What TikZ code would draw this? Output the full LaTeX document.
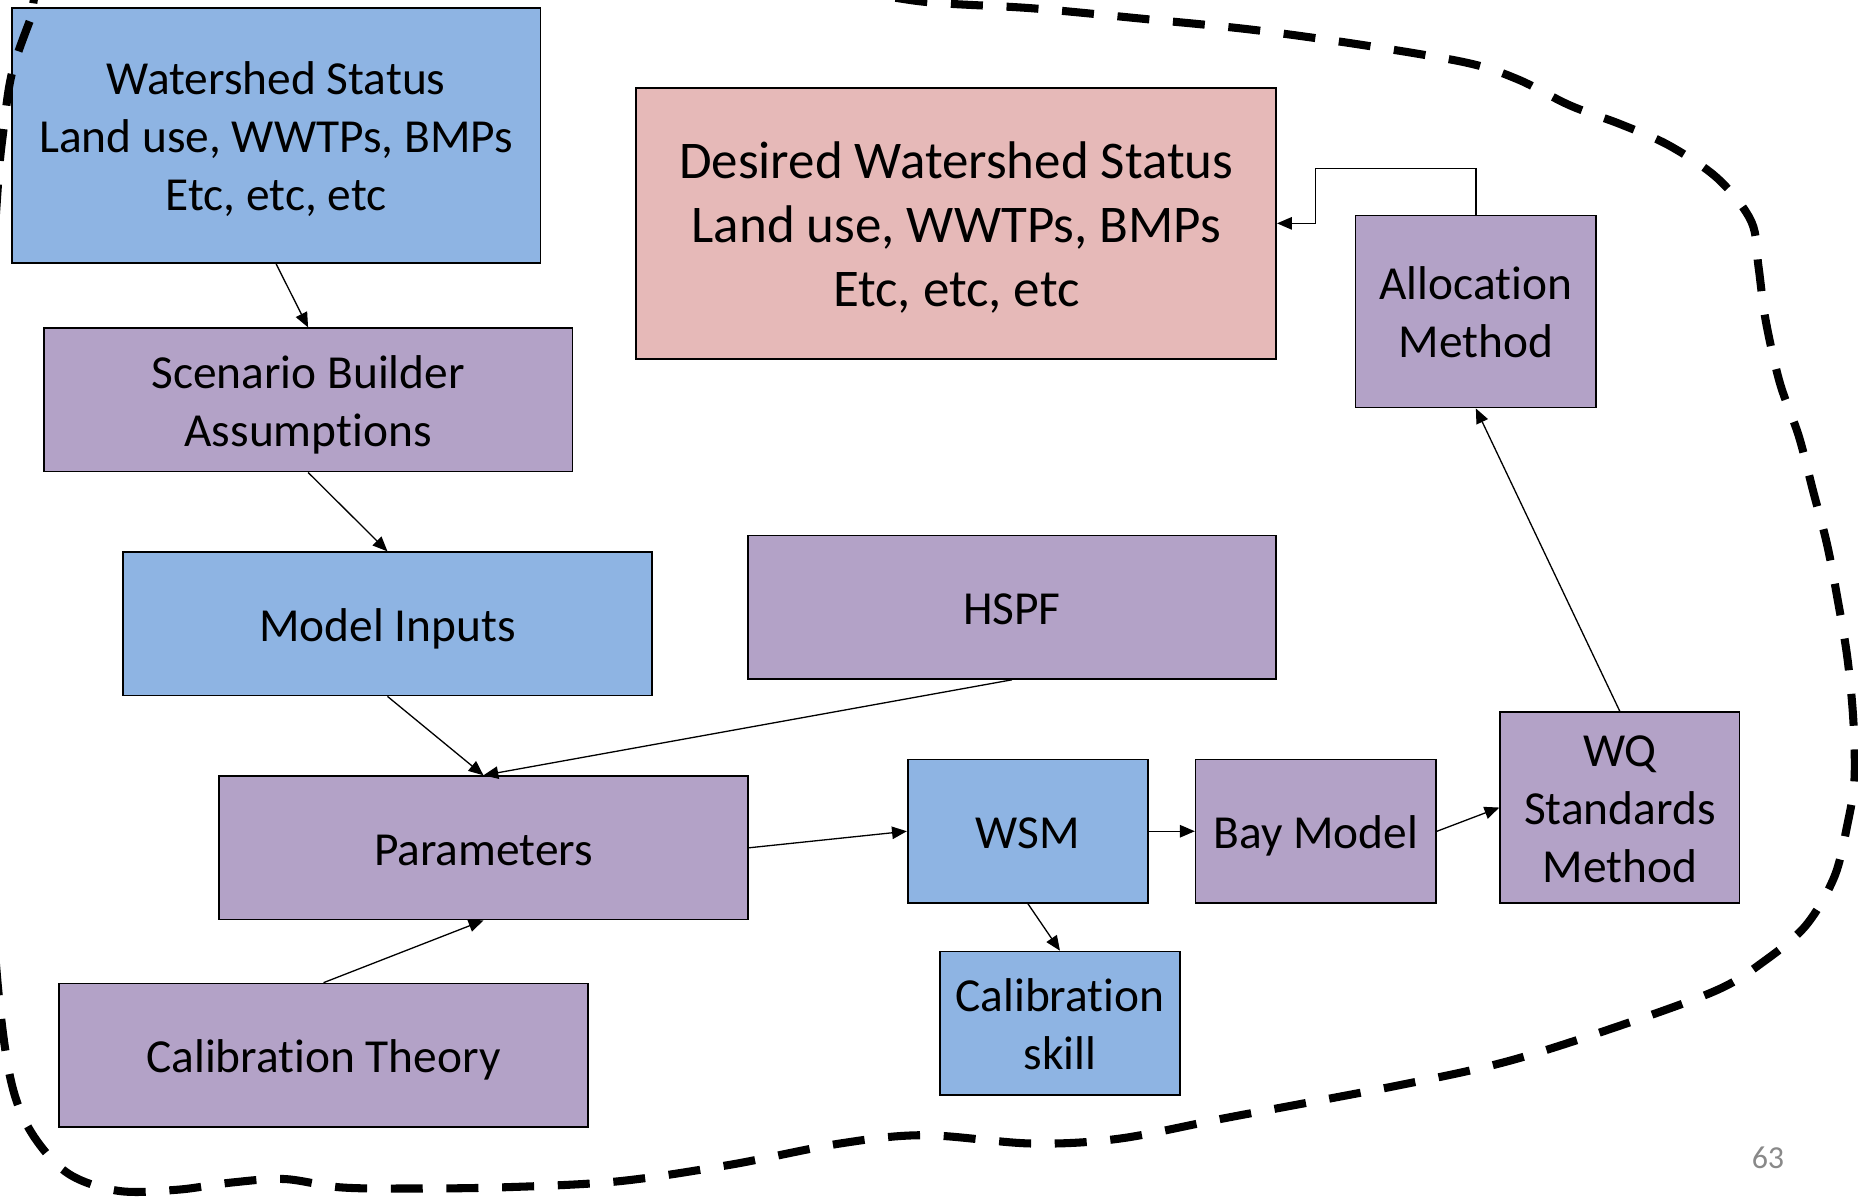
\documentclass[tikz,border=0pt]{standalone}
\usepackage{fontspec}
\setmainfont{Carlito}[Ligatures=CommonOff]
\usetikzlibrary{arrows.meta}
\definecolor{boxblue}{HTML}{8EB4E3}
\definecolor{boxpurple}{HTML}{B3A2C7}
\definecolor{boxpink}{HTML}{E6B9B8}
\definecolor{pagegray}{HTML}{898989}
\newcommand{\firstA}{\rule{0pt}{36pt}}
\newcommand{\firstB}{\rule{0pt}{41pt}}
\begin{document}
\begin{tikzpicture}[x=1pt,y=-1pt,
  box/.style={draw=black, line width=1.4pt, inner sep=0pt, align=center, font=\fontsize{40}{49}\selectfont,
    execute at begin node={\rule{0pt}{36pt}}, execute at end node={\rule[-7pt]{0pt}{7pt}}},
  bluebox/.style={box, fill=boxblue},
  purplebox/.style={box, fill=boxpurple},
  pinkbox/.style={box, fill=boxpink, font=\fontsize{44.7}{54}\selectfont,
    execute at begin node={\rule{0pt}{41pt}}, execute at end node={\rule[-8pt]{0pt}{8pt}}},
  conn/.style={line width=1.1pt, -{Triangle[length=12.5pt,width=10.5pt]}},
  boundary/.style={line width=6.8pt, dash pattern=on 27pt off 20pt}
]
\useasboundingbox (0,0) rectangle (1568,1011);
\fill[white] (0,0) rectangle (1568,1011);

\node[bluebox, minimum width=446pt, minimum height=215pt] (ws) at (233,114.5) {\firstA Watershed Status\\Land use, WWTPs, BMPs\\Etc, etc, etc};
\node[pinkbox, minimum width=540pt, minimum height=229pt] (des) at (807,188.5) {\firstB Desired Watershed Status\\Land use, WWTPs, BMPs\\Etc, etc, etc};
\node[purplebox, minimum width=203pt, minimum height=162pt] (alloc) at (1245.5,263) {\firstA Allocation\\Method};
\node[purplebox, minimum width=446pt, minimum height=121pt] (sb) at (260,337.5) {\firstA Scenario Builder\\Assumptions};
\node[bluebox, minimum width=446pt, minimum height=121pt] (mi) at (327,526.5) {Model Inputs};
\node[purplebox, minimum width=446pt, minimum height=121pt] (hspf) at (854,512.5) {HSPF};
\node[purplebox, minimum width=446pt, minimum height=121pt] (par) at (408,715.5) {Parameters};
\node[bluebox, minimum width=203pt, minimum height=121pt] (wsm) at (867.5,701.5) {WSM};
\node[purplebox, minimum width=203pt, minimum height=121pt] (bay) at (1110.5,701.5) {Bay Model};
\node[purplebox, minimum width=202pt, minimum height=161pt] (wq) at (1367,681.5) {\firstA WQ\\Standards\\Method};
\node[bluebox, minimum width=203pt, minimum height=121pt] (cs) at (894.5,863.5) {\firstA Calibration\\skill};
\node[purplebox, minimum width=446pt, minimum height=121pt] (ct) at (273,890.5) {Calibration Theory};

\node[text=pagegray, font=\fontsize{27}{32}\selectfont, inner sep=0pt] (pg) at (1492,977) {63};

\draw[conn] (ws.south) -- (sb.north);
\draw[conn] (sb.south) -- (mi.north);
\draw[conn] (mi.south) -- (par.north);
\draw[conn] (hspf.south) -- (par.north);
\draw[conn] (ct.north) -- (par.south);
\draw[conn] (par.east) -- (wsm.west);
\draw[conn] (wsm.east) -- (bay.west);
\draw[conn] (bay.east) -- (wq.west);
\draw[conn] (wsm.south) -- (cs.north);
\draw[conn] (wq.north) -- (alloc.south);
\coordinate (k1) at (1110,142);
\draw[conn] (alloc.north) -- (alloc.north |- k1) -- (k1) -- (k1 |- des.east) -- (des.east);

\begin{scope}
\clip (0,0) rectangle (1568,1011);
\draw[boundary] plot[smooth cycle, tension=0.55] coordinates {
(45,-30) (25,18) (10,62) (3,109) (-2,160) (-10,300) (-14,500) (-10,700) (-2,830)
(9,911) (26,955) (57,990) (100,1005) (150,1004) (195,998) (240,995) (287,1002)
(344,1003) (424,1002) (521,997) (616,983) (709,965) (780,958) (870,965) (944,961)
(1037,943) (1180,916) (1271,896) (1360,868) (1448,836) (1489,811) (1524,781)
(1548,740) (1559,696) (1565,658) (1564,607) (1559,555) (1551,507) (1542,460)
(1530,414) (1518,368) (1502,323) (1490,270) (1484,225) (1478,187) (1450,151)
(1409,123) (1368,105) (1325,89) (1281,67) (1238,53) (1150,38) (1056,25) (966,16)
(871,7) (785,2) (700,-8) (400,-30) (150,-40)};
\end{scope}
\end{tikzpicture}
\end{document}
